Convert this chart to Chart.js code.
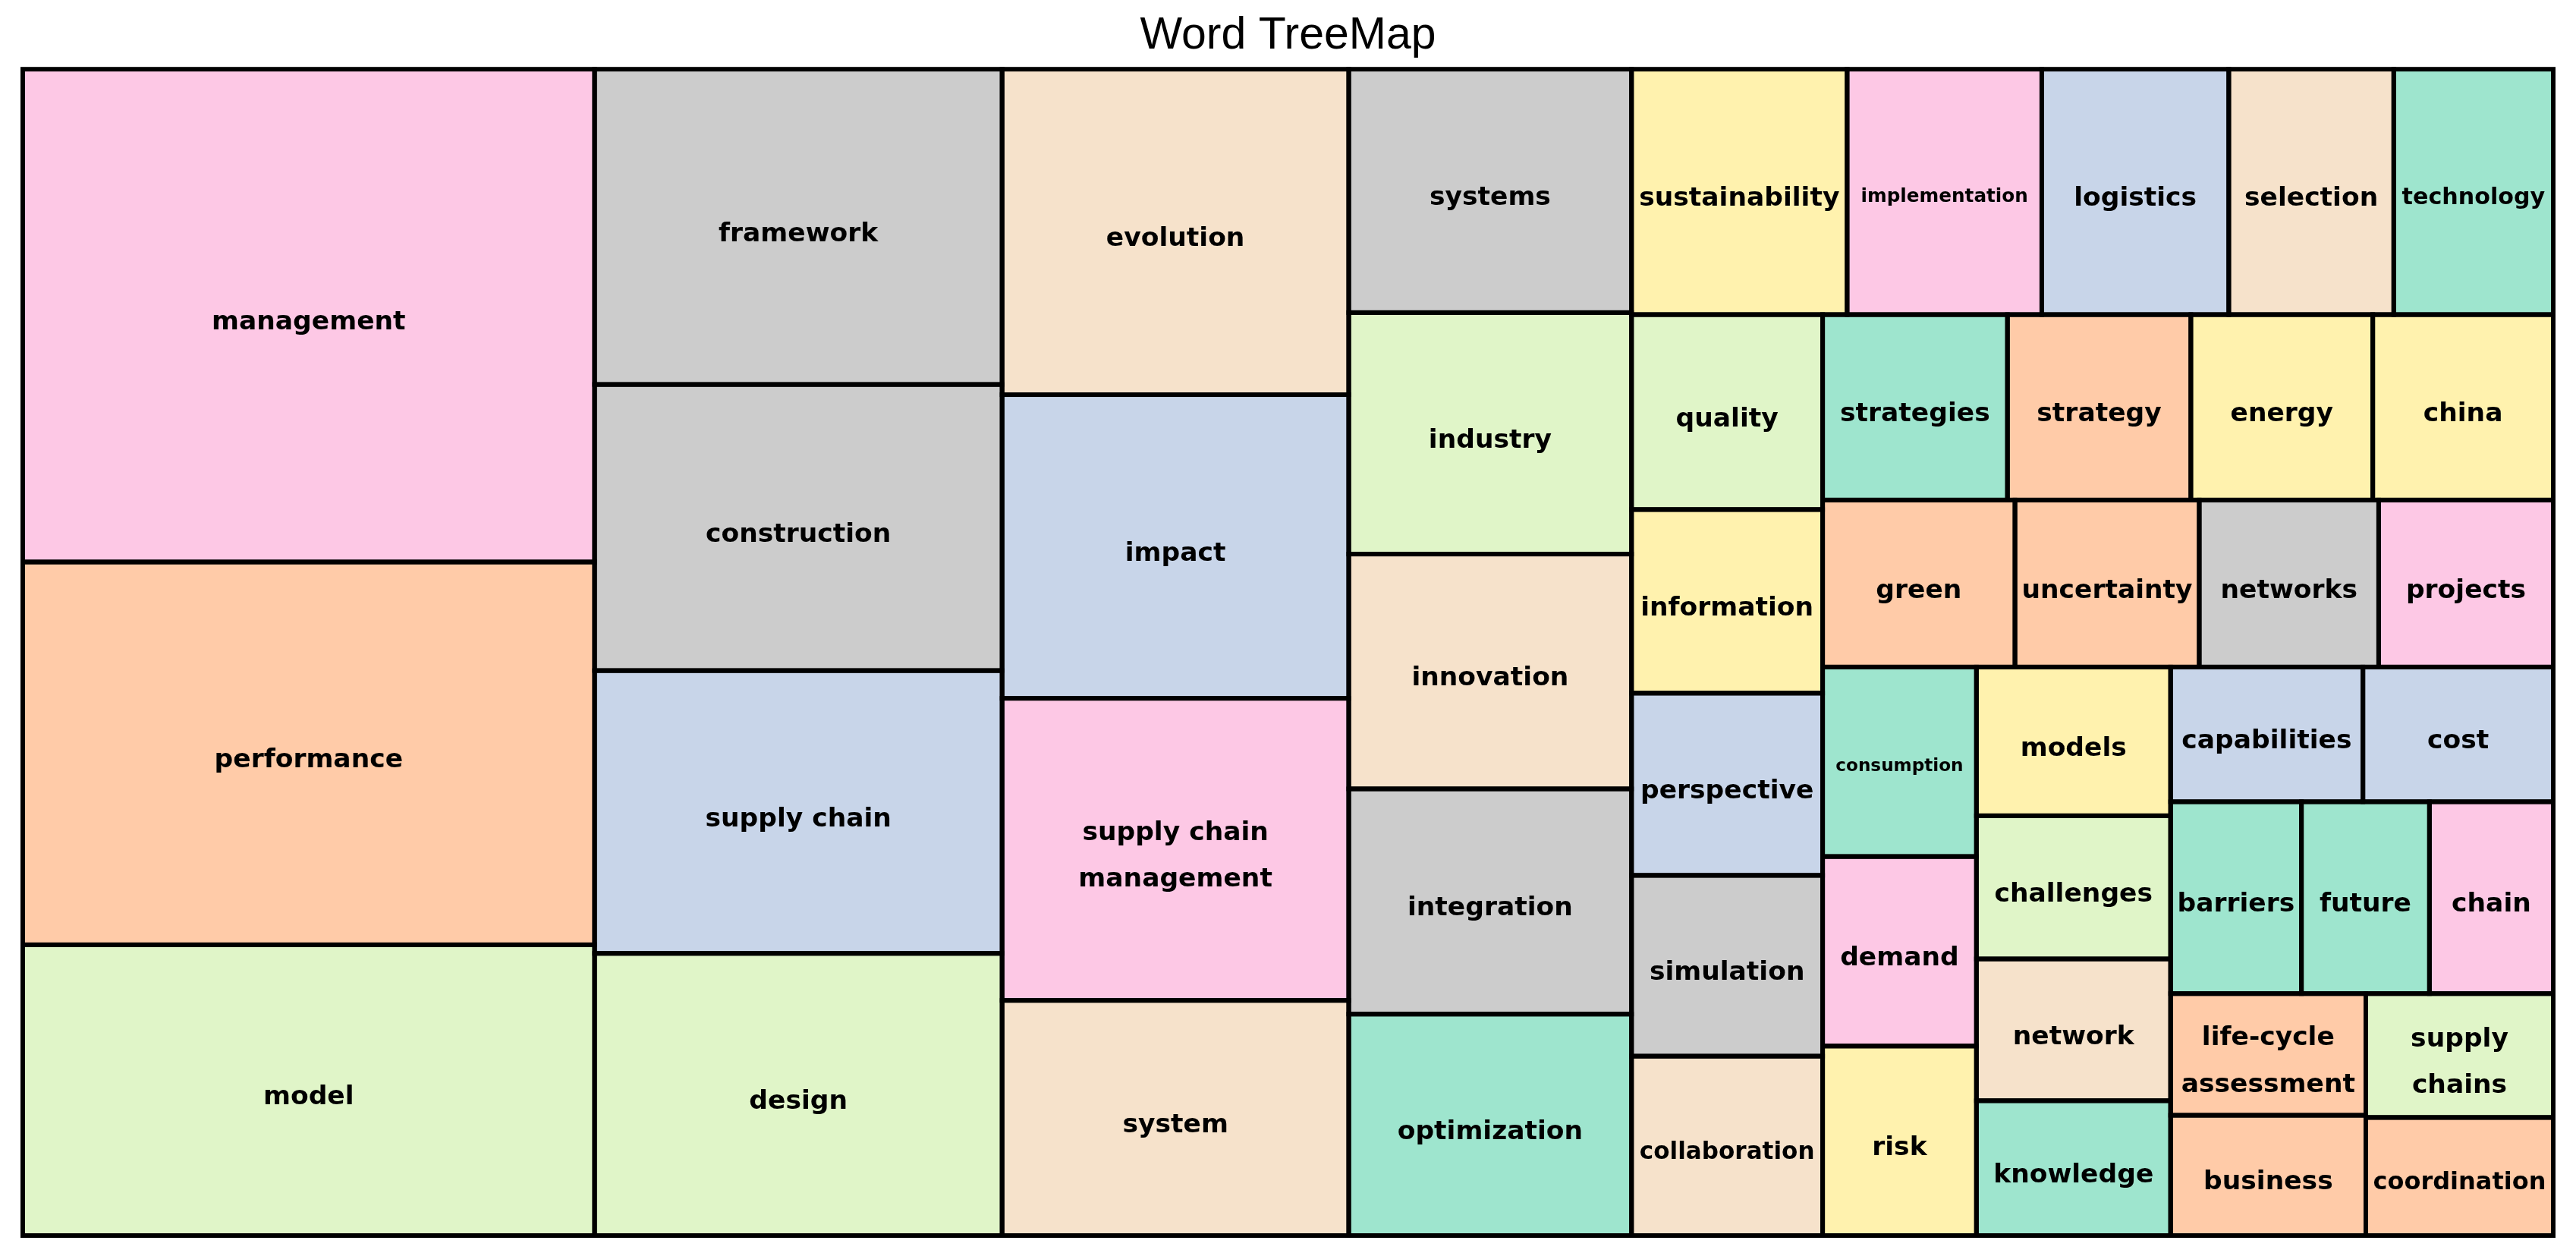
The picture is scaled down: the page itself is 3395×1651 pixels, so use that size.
<!DOCTYPE html>
<html lang="en">
<head>
  <meta charset="UTF-8">
  <title>Word TreeMap</title>
  <script src="https://cdn.jsdelivr.net/npm/chart.js"></script>
  <style>
    html, body { margin: 0; padding: 0; background: #fff; }
    canvas { display: block; }
  </style>
</head>
<body>
  <canvas id="treemap" width="3395" height="1651"></canvas>

  <script>
    // Words and frequencies
    const words = [
      'management', 'performance', 'model',
      'framework', 'construction', 'supply chain', 'design',
      'evolution', 'impact', 'supply chain management', 'system',
      'systems', 'industry', 'innovation', 'integration', 'optimization',
      'sustainability', 'implementation', 'logistics', 'selection', 'technology',
      'quality', 'information', 'perspective', 'simulation', 'collaboration',
      'strategies', 'strategy', 'energy', 'china',
      'green', 'uncertainty', 'networks', 'projects',
      'consumption', 'demand', 'risk',
      'models', 'challenges', 'network', 'knowledge',
      'capabilities', 'cost',
      'barriers', 'future', 'chain',
      'life-cycle assessment', 'business',
      'supply chains', 'coordination'
    ];
    const freqs = [
      1044, 811, 616,
      476, 432, 427, 426,
      418, 390, 388, 302,
      255, 253, 246, 236, 232,
      196, 177, 170, 150, 145,
      138, 130, 129, 128, 127,
      127, 126, 125, 124,
      119, 114, 111, 108,
      108, 108, 108,
      107, 103, 102, 97,
      96, 95,
      93, 91, 88,
      88, 87,
      86, 82
    ];

    // Pastel2, handed out to the words in alphabetical order
    const palette = ['#9EE5CE', '#FFCBA8', '#C8D5E9', '#FDC8E5', '#E0F5C8', '#FFF2AE', '#F6E2CB', '#CCCCCC'];

    // size of the layout space (x, y in scale units)
    const W = 1540, H = 710;

    const alpha = words.slice().sort((a, b) => (a < b ? -1 : 1));

    // pivot-by-size layout: the biggest item is the pivot, the items beside it
    // are chosen so that the pivot comes out as square as possible
    function pivot(items, x, y, w, h, out) {
      if (!items.length) return;
      if (items.length === 1) {
        out.push(Object.assign({}, items[0], { x, y, w, h }));
        return;
      }
      const total = items.reduce((s, d) => s + d.v, 0);
      const p = items[0];
      const rest = items.slice(1);
      const vertical = w >= h;
      let best = 0, bestAsp = Infinity, acc = p.v;
      for (let k = 0; k <= rest.length; k++) {
        if (k > 0) acc += rest[k - 1].v;
        let pw, ph;
        if (vertical) { pw = w * acc / total; ph = h * p.v / acc; }
        else { ph = h * acc / total; pw = w * p.v / acc; }
        const asp = Math.max(pw / ph, ph / pw);
        if (asp < bestAsp) { bestAsp = asp; best = k; }
      }
      const r2 = rest.slice(0, best), r3 = rest.slice(best);
      const s = p.v + r2.reduce((a, d) => a + d.v, 0);
      if (vertical) {
        const sw = w * s / total, ph = h * p.v / s;
        out.push(Object.assign({}, p, { x, y, w: sw, h: ph }));
        pivot(r2, x, y + ph, sw, h - ph, out);
        pivot(r3, x + sw, y, w - sw, h, out);
      } else {
        const sh = h * s / total, pw = w * p.v / s;
        out.push(Object.assign({}, p, { x, y, w: pw, h: sh }));
        pivot(r2, x + pw, y, w - pw, sh, out);
        pivot(r3, x, y + sh, w, h - sh, out);
      }
    }

    const items = words.map((t, i) => ({ t, v: freqs[i] }))
      .sort((a, b) => b.v - a.v);
    const cells = [];
    pivot(items, 0, 0, W, H, cells);

    const labelFont = "'DejaVu Sans', Verdana, sans-serif";

    // one line, or two if that lets the label stay bigger
    function fitLabel(ctx, text, w, h) {
      const base = 34.5, pad = 14, gap = 1.78;
      ctx.font = `bold ${base}px ${labelFont}`;
      const parts = text.split(' ');
      const options = [[text]];
      for (let i = 1; i < parts.length; i++) {
        options.push([parts.slice(0, i).join(' '), parts.slice(i).join(' ')]);
      }
      let best = null;
      options.forEach(lines => {
        const tw = Math.max(...lines.map(l => ctx.measureText(l).width));
        const th = base * (1 + (lines.length - 1) * gap);
        let s = Math.min(1, (w - pad) / tw, (h - pad) / th);
        if (s < 1) s = Math.pow(s, 1.4);
        const better = !best || s > best.s + 1e-6 ||
          (Math.abs(s - best.s) < 1e-6 && lines.length === best.lines.length && tw < best.tw);
        if (better) best = { lines, s, tw };
      });
      const size = base * best.s;
      return { lines: best.lines, size, gap: size * gap };
    }

    const treemapPlugin = {
      id: 'treemapCells',
      afterDatasetsDraw(chart) {
        const { ctx, scales: { x: xs, y: ys } } = chart;
        const rects = cells.map(c => {
          const x0 = xs.getPixelForValue(c.x), x1 = xs.getPixelForValue(c.x + c.w);
          const y0 = ys.getPixelForValue(c.y), y1 = ys.getPixelForValue(c.y + c.h);
          return { t: c.t, x0, y0, w: x1 - x0, h: y1 - y0 };
        });
        ctx.save();
        rects.forEach(r => {
          ctx.fillStyle = palette[alpha.indexOf(r.t) % palette.length];
          ctx.fillRect(r.x0, r.y0, r.w, r.h);
        });
        ctx.lineWidth = 6;
        ctx.strokeStyle = '#000';
        rects.forEach(r => ctx.strokeRect(r.x0, r.y0, r.w, r.h));

        ctx.fillStyle = '#000';
        ctx.textAlign = 'center';
        ctx.textBaseline = 'middle';
        rects.forEach(r => {
          const lab = fitLabel(ctx, r.t, r.w, r.h);
          ctx.font = `bold ${lab.size}px ${labelFont}`;
          const cx = r.x0 + r.w / 2;
          const cy = r.y0 + r.h / 2 + lab.size * 0.28;
          const n = lab.lines.length;
          lab.lines.forEach((l, i) => {
            ctx.fillText(l, cx, cy + (i - (n - 1) / 2) * lab.gap);
          });
        });
        ctx.restore();
      }
    };

    new Chart(document.getElementById('treemap'), {
      type: 'scatter',
      data: { datasets: [{ data: [], pointRadius: 0 }] },
      options: {
        responsive: false,
        animation: false,
        layout: { padding: { left: 30, right: 30, top: 0, bottom: 23 } },
        scales: {
          x: { type: 'linear', min: 0, max: W, display: false },
          y: { type: 'linear', min: 0, max: H, reverse: true, display: false }
        },
        plugins: {
          legend: { display: false },
          tooltip: { enabled: false },
          title: {
            display: true,
            text: 'Word TreeMap',
            color: '#000',
            font: { family: "'Liberation Sans', Arial, sans-serif", size: 59, weight: 'normal' },
            padding: { top: 12, bottom: 8.4 }
          }
        }
      },
      plugins: [treemapPlugin]
    });
  </script>
</body>
</html>
